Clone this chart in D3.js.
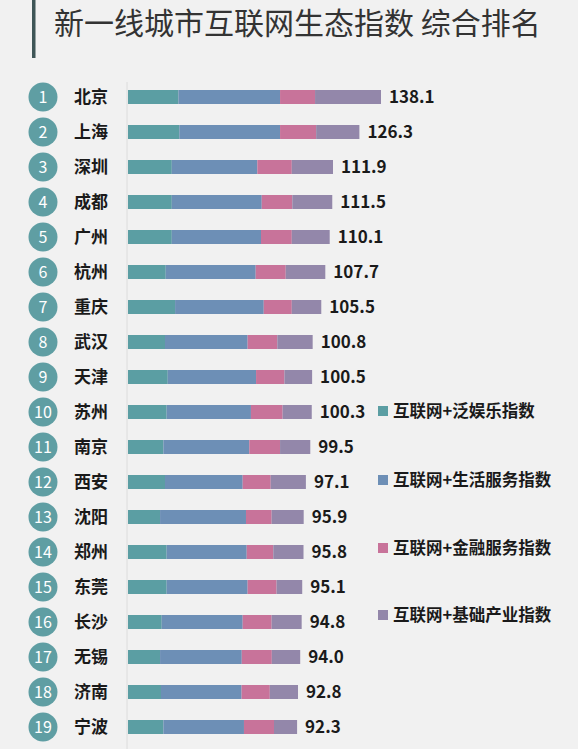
<!DOCTYPE html>
<html lang="zh">
<head>
  <meta charset="UTF-8">
  <title>新一线城市互联网生态指数 综合排名</title>
  <script src="https://d3js.org/d3.v7.min.js"></script>
  <style>
    body { margin: 0; background: #f1f1f1; }
    text { font-family: "Noto Sans CJK SC", "Noto Sans", sans-serif; }
  </style>
</head>
<body>
  <div id="chart"></div>

  <script>
    // city order = ranking
    const cities = ["北京", "上海", "深圳", "成都", "广州", "杭州", "重庆", "武汉", "天津", "苏州",
                    "南京", "西安", "沈阳", "郑州", "东莞", "长沙", "无锡", "济南", "宁波"];

    // sub-indices
    const entertainment = [27.5, 28.0, 23.9, 23.9, 23.9, 20.6, 25.7, 20.2, 21.7, 21.1, 19.3, 20.2, 17.5, 21.1, 21.1, 18.4, 17.5, 18.0, 19.3];
    const lifeService   = [55.5, 55.0, 46.7, 49.1, 48.7, 49.1, 48.4, 45.1, 48.2, 46.0, 46.9, 42.4, 46.9, 43.7, 44.2, 44.2, 44.6, 44.0, 44.0];
    const finance       = [19.1, 19.7, 18.8, 16.7, 16.8, 16.4, 15.3, 16.2, 15.5, 17.3, 16.8, 15.3, 14.0, 14.5, 15.8, 15.8, 16.4, 15.4, 16.4];
    const infrastructure = [36.0, 23.6, 22.5, 21.8, 20.7, 21.6, 16.1, 19.3, 15.1, 15.9, 16.5, 19.2, 17.5, 16.5, 14.0, 16.4, 15.5, 15.4, 12.6];

    // composite index labels
    const totals = [138.1, 126.3, 111.9, 111.5, 110.1, 107.7, 105.5, 100.8, 100.5, 100.3,
                    99.5, 97.1, 95.9, 95.8, 95.1, 94.8, 94.0, 92.8, 92.3];

    const seriesNames = ["互联网+泛娱乐指数", "互联网+生活服务指数", "互联网+金融服务指数", "互联网+基础产业指数"];
    const colors = ["#5b9ea3", "#6d8fb6", "#c8739a", "#9387aa"];

    const width = 578, height = 749;

    const svg = d3.select("#chart").append("svg")
      .attr("width", width)
      .attr("height", height);

    svg.append("rect")
      .attr("width", width)
      .attr("height", height)
      .attr("fill", "#f1f1f1");

    // title with the dark bar on its left
    svg.append("rect")
      .attr("x", 32)
      .attr("y", 0)
      .attr("width", 3.5)
      .attr("height", 58)
      .attr("fill", "#3f5657");

    svg.append("text")
      .attr("x", 54)
      .attr("y", 34)
      .attr("font-size", 30)
      .attr("fill", "#333")
      .text("新一线城市互联网生态指数 综合排名");

    const rows = cities.map((c, i) => ({
      city: c,
      rank: i + 1,
      total: totals[i],
      s0: entertainment[i],
      s1: lifeService[i],
      s2: finance[i],
      s3: infrastructure[i]
    }));

    const x = d3.scaleLinear()
      .domain([0, 140])
      .range([128, 128 + 140 * 1.832]);

    const y = d3.scaleBand()
      .domain(cities)
      .range([79.5, 79.5 + cities.length * 35])
      .paddingInner(0.6)
      .paddingOuter(0.3);

    const stack = d3.stack().keys(["s0", "s1", "s2", "s3"]);
    const layers = stack(rows);

    // thin baseline
    svg.append("line")
      .attr("x1", x(0) - 1)
      .attr("x2", x(0) - 1)
      .attr("y1", 82)
      .attr("y2", height)
      .attr("stroke", "#dcdcdc")
      .attr("stroke-width", 1);

    svg.selectAll(".layer")
      .data(layers)
      .enter().append("g")
      .attr("class", "layer")
      .attr("fill", (d, i) => colors[i])
      .selectAll("rect")
      .data(d => d)
      .enter().append("rect")
      .attr("x", d => x(d[0]))
      .attr("y", d => y(d.data.city))
      .attr("width", d => x(d[1]) - x(d[0]))
      .attr("height", y.bandwidth());

    const cy = d => y(d.city) + y.bandwidth() / 2;

    // rank circles
    svg.selectAll(".rank")
      .data(rows)
      .enter().append("circle")
      .attr("class", "rank")
      .attr("cx", 43)
      .attr("cy", cy)
      .attr("r", 14.5)
      .attr("fill", "#5f9ea3");

    svg.selectAll(".rank-num")
      .data(rows)
      .enter().append("text")
      .attr("class", "rank-num")
      .attr("x", 43)
      .attr("y", cy)
      .attr("dy", "0.36em")
      .attr("text-anchor", "middle")
      .attr("font-size", 16)
      .attr("fill", "#fff")
      .text(d => d.rank);

    svg.selectAll(".city")
      .data(rows)
      .enter().append("text")
      .attr("class", "city")
      .attr("x", 74)
      .attr("y", cy)
      .attr("dy", "0.36em")
      .attr("font-size", 17)
      .attr("font-weight", "bold")
      .attr("fill", "#1a1a1a")
      .text(d => d.city);

    svg.selectAll(".value")
      .data(rows)
      .enter().append("text")
      .attr("class", "value")
      .attr("x", d => x(d.total) + 8)
      .attr("y", cy)
      .attr("dy", "0.36em")
      .attr("font-size", 17)
      .attr("font-weight", "bold")
      .attr("fill", "#1a1a1a")
      .text(d => d.total.toFixed(1));

    // legend
    const legendY = [411, 480, 548, 615];
    const legend = svg.selectAll(".legend")
      .data(seriesNames)
      .enter().append("g")
      .attr("class", "legend")
      .attr("transform", (d, i) => `translate(378,${legendY[i]})`);

    legend.append("rect")
      .attr("x", 0)
      .attr("y", -5)
      .attr("width", 10)
      .attr("height", 10)
      .attr("fill", (d, i) => colors[i]);

    legend.append("text")
      .attr("x", 15)
      .attr("y", 0)
      .attr("dy", "0.36em")
      .attr("font-size", 16.5)
      .attr("font-weight", "bold")
      .attr("fill", "#1a1a1a")
      .text(d => d);
  </script>
</body>
</html>
